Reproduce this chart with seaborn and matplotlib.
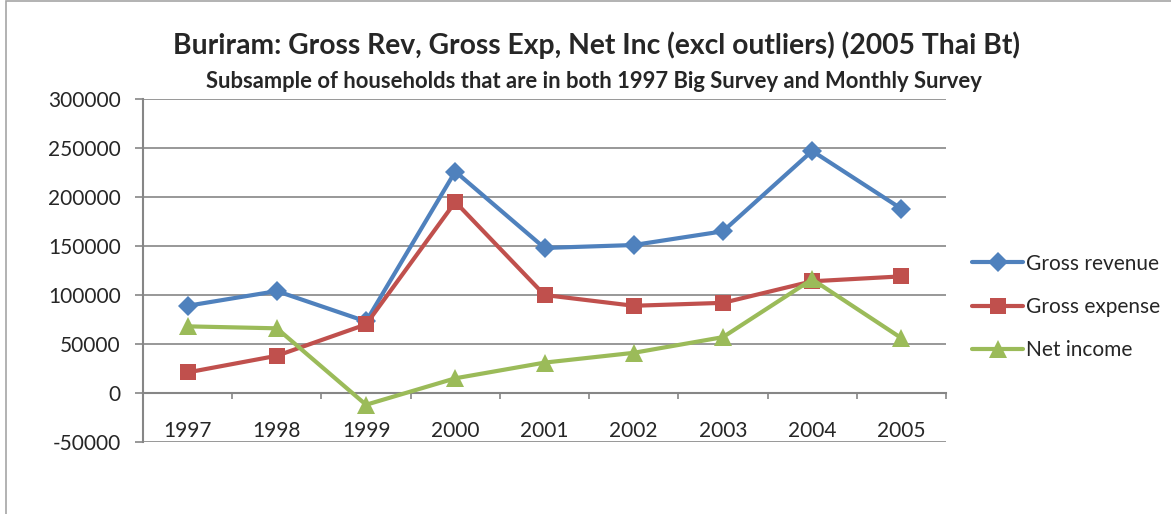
"""Buriram gross revenue, gross expense and net income, 1997-2005"""

import numpy as np
import pandas as pd
import seaborn as sns
import matplotlib.pyplot as plt
from matplotlib.patches import Rectangle

years = [1997, 1998, 1999, 2000, 2001, 2002, 2003, 2004, 2005]
gross_revenue = [89000, 104000, 73000, 226000, 148000, 151000, 165000, 247000, 188000]
gross_expense = [21000, 38000, 70000, 195000, 100000, 89000, 92000, 114000, 119000]
net_income = [68000, 66000, -12000, 15000, 31000, 41000, 57000, 116000, 56000]
series_names = ['Gross revenue', 'Gross expense', 'Net income']
y_ticks = [-50000, 0, 50000, 100000, 150000, 200000, 250000, 300000]

colours = ['#4F81BD', '#C0504D', '#9BBB59']
markers = ['D', 's', '^']
marker_sizes = [10.5, 11.5, 12.5]
grey = '#868686'

sns.set_style('white')
plt.rcParams['font.family'] = ['Lato', 'DejaVu Sans']

df = pd.DataFrame({'year': years * 3,
                   'value': gross_revenue + gross_expense + net_income,
                   'series': np.repeat(series_names, len(years))})

fig = plt.figure(figsize=(11.71, 5.14), dpi=100)
ax = fig.add_axes([143 / 1171, 1 - 442 / 514, 803 / 1171, 343 / 514])

for i, name in enumerate(series_names):
    sub = df[df['series'] == name]
    sns.lineplot(data=sub, x='year', y='value', ax=ax, color=colours[i],
                 marker=markers[i], markersize=marker_sizes[i], linewidth=3,
                 markeredgewidth=0, label=name, zorder=3 + i)

ax.set_xlim(years[0] - 0.5, years[-1] + 0.5)
ax.set_ylim(y_ticks[0], y_ticks[-1])
ax.set_yticks(y_ticks)
ax.set_yticklabels([str(v) for v in y_ticks])
ax.set_xticks(years)
ax.set_xticklabels([str(y) for y in years])
ax.set_xticks(np.arange(years[0] - 0.5, years[-1] + 1), minor=True)
ax.set_xlabel('')
ax.set_ylabel('')

ax.grid(axis='y', color=grey, linewidth=1.2)
ax.grid(axis='x', visible=False)
for side in ['top', 'right']:
    ax.spines[side].set_visible(False)
ax.spines['bottom'].set_position(('data', 0))
ax.spines['bottom'].set_color(grey)
ax.spines['bottom'].set_linewidth(1.5)
ax.spines['left'].set_color(grey)
ax.spines['left'].set_linewidth(1.5)
ax.set_axisbelow(True)

ax.tick_params(axis='y', which='major', left=True, length=6, width=1.2, color=grey,
               pad=10, labelsize=15)
ax.tick_params(axis='x', which='major', bottom=True, length=0, pad=20, labelsize=15)
ax.tick_params(axis='x', which='minor', bottom=True, length=4.5, width=1.2, color=grey,
               direction='out', labelsize=15)

ax.legend(loc='center left', bbox_to_anchor=(964 / 1171, 1 - 307 / 514),
          bbox_transform=fig.transFigure, frameon=False, fontsize=15,
          handlelength=2.45, handletextpad=0.15, labelspacing=1.12, borderaxespad=0)

fig.text(0.509, 1 - 45 / 514, 'Buriram: Gross Rev, Gross Exp, Net Inc (excl outliers) (2005 Thai Bt)',
         ha='center', va='center', fontsize=20.3, fontweight='bold')
fig.text(0.507, 1 - 81 / 514, 'Subsample of households that are in both 1997 Big Survey and Monthly Survey',
         ha='center', va='center', fontsize=15.8, fontweight='bold')

fig.patches.append(Rectangle((6 / 1171, -0.1), 1.2, 1.1 - 1 / 514, transform=fig.transFigure,
                             fill=False, edgecolor='#A6A6A6', linewidth=1.2))

plt.savefig('out.png', dpi=100)
